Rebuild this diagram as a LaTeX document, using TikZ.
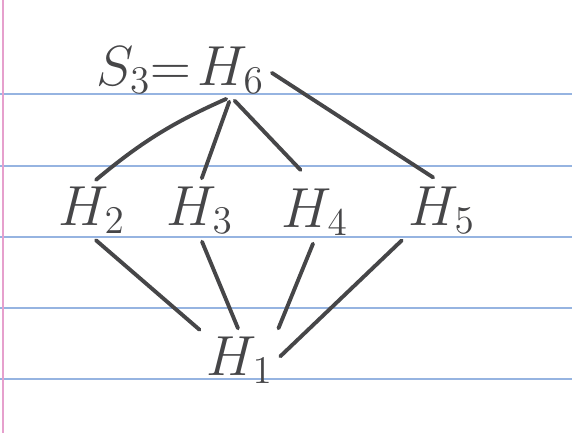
\documentclass[tikz,border=0pt]{standalone}
\usetikzlibrary{positioning}

\definecolor{ruleblue}{RGB}{150,180,225}
\definecolor{marginpink}{RGB}{230,160,205}
\definecolor{pencil}{RGB}{70,70,72}

\begin{document}
\begin{tikzpicture}[
    group/.style={text=pencil, inner sep=1pt, font=\huge, scale=1.55, transform shape},
    link/.style={draw=pencil, line width=2.2pt, line cap=round, shorten <=3pt, shorten >=3pt}
]

    \useasboundingbox (0,0) rectangle (11.44,-8.66);
    \fill[white] (0,0) rectangle (11.44,-8.66);

    \foreach \y in {1.88,3.32,4.74,6.16,7.58}
        \draw[ruleblue, line width=1.2pt] (0,-\y) -- (11.44,-\y);
    \draw[marginpink, line width=1.2pt] (0.06,0) -- (0.06,-8.66);

    \node[group] (H6) at (4.62,-1.40) {$H_6$};
    \node[group, left=0pt of H6] (S3) {$S_3{=}$};

    \node[group] (H2) at (1.84,-4.20) {$H_2$};
    \node[group] (H3) at (4.00,-4.20) {$H_3$};
    \node[group] (H4) at (6.30,-4.24) {$H_4$};
    \node[group] (H5) at (8.84,-4.20) {$H_5$};

    \node[group] (H1) at (4.80,-7.20) {$H_1$};

    \draw[link] (H6.south) to[bend right=8] (H2.north);
    \draw[link] (H6.south) -- (H3.north);
    \draw[link, shorten >=12pt] (H6.south) -- (H4.north);
    \draw[link, shorten >=6pt] (H6.east) -- (H5.north);

    \draw[link] (H2.south) -- (H1.north west);
    \draw[link] (H3.south) -- (H1.north);
    \draw[link] (H4.south) -- (H1.north east);
    \draw[link] (H5.south west) -- (H1.east);

\end{tikzpicture}
\end{document}
